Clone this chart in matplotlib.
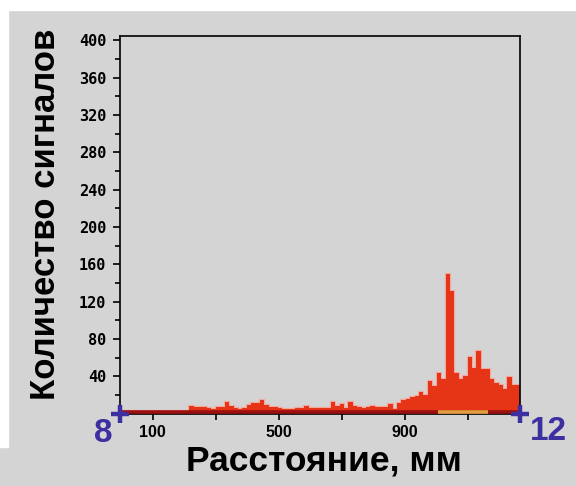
import numpy as np
import matplotlib
matplotlib.use("Agg")
import matplotlib.pyplot as plt
from matplotlib.patches import Rectangle

# ---- data ----
bin_start = -8          # mm, first bin edge
bin_width = 14          # mm
counts = [3, 3, 3, 3, 3, 3, 3, 3, 3, 3, 3, 3, 3, 3, 3, 3,
          8, 7, 7, 7, 6, 5, 7, 7, 12, 8, 6, 5, 6, 9, 11, 11,
          15, 9, 7, 7, 6, 5, 5, 5, 6, 6, 8, 6, 5.5, 5.5, 5.5, 5.5,
          12, 8, 10, 6, 12, 8, 7, 6, 7, 8, 7, 7, 7, 10, 5, 11,
          15, 16, 18, 19, 23, 20, 35, 30, 43, 37, 150, 131, 43, 37, 40, 61,
          49, 67, 48, 48, 37, 33, 31, 26, 39, 31, 31]
x_limits = [-4, 1264]
y_limits = [0, 405]
x_ticks = [100, 300, 500, 700, 900, 1100]
x_tick_labels = ["100", "", "500", "", "900", ""]
y_major = list(range(0, 401, 40))
y_major_labels = [""] + [str(v) for v in range(40, 401, 40)]
y_minor = list(range(20, 400, 40))
marked_range = [1005, 1163]
corner_left_label = "8"
corner_right_label = "12"
xlabel = "Расстояние, мм"
ylabel = "Количество сигналов"

counts = np.array(counts, dtype=float)
edges = bin_start + bin_width * np.arange(len(counts) + 1)

GRAY = "#d4d4d4"
RED = "#e63416"
BLUE = "#3c2f9f"

W, H = 576, 486
fig = plt.figure(figsize=(W / 100, H / 100), dpi=100, facecolor=GRAY)
fig.patches.append(Rectangle((0, 1 - 10 / H), 1, 10 / H, transform=fig.transFigure,
                             color="white", zorder=0))
fig.patches.append(Rectangle((0, 1 - 447 / H), 8 / W, 447 / H, transform=fig.transFigure,
                             color="white", zorder=0))

ax = fig.add_axes([120 / W, 1 - 413.5 / H, 400 / W, (413.5 - 35.7) / H])
ax.set_facecolor(GRAY)

# halo / outline then bars
ax.stairs(counts, edges, color="#f3a8a2", linewidth=1.6, zorder=1)
ax.stairs(counts, edges, fill=True, color=RED, linewidth=0, zorder=2)
ax.axhline(1.5, color="#9a0f0f", linewidth=2.6, zorder=3)
ax.plot(marked_range, [1.5, 1.5], color="#e0a040", linewidth=2.6, zorder=4,
        solid_capstyle="butt")

ax.set_xlim(*x_limits)
ax.set_ylim(*y_limits)

for s in ax.spines.values():
    s.set_linewidth(1.2)
    s.set_color("black")

ax.set_xticks(x_ticks)
ax.set_xticklabels(x_tick_labels, fontsize=11.5, family="Liberation Sans",
                   fontweight="bold")
ax.set_yticks(y_major)
ax.set_yticklabels(y_major_labels, fontsize=11, family="DejaVu Sans Mono",
                   fontweight="bold")
ax.set_yticks(y_minor, minor=True)
ax.tick_params(axis="x", direction="out", length=4, width=1.2, pad=4, colors="black")
ax.tick_params(axis="y", which="major", direction="out", length=5, width=1.2, pad=5)
ax.tick_params(axis="y", which="minor", direction="out", length=3.5, width=1.2)

# blue corner markers
for xx in (0, 1):
    ax.plot([xx], [0], transform=ax.transAxes, marker="+", markersize=13,
            markeredgewidth=3.2, color=BLUE, clip_on=False, zorder=6)

fig.text(103 / W, 1 - 433 / H, corner_left_label, color=BLUE, fontsize=24,
         fontweight="bold", family="Liberation Sans", ha="center", va="center")
fig.text(548 / W, 1 - 432 / H, corner_right_label, color=BLUE, fontsize=24,
         fontweight="bold", family="Liberation Sans", ha="center", va="center")

fig.text(324 / W, 1 - 470 / H, xlabel, fontsize=25.5, fontweight="bold",
         family="Liberation Sans", ha="center", va="baseline")
fig.text(46 / W, 1 - 214 / H, ylabel, fontsize=25, fontweight="bold",
         family="Liberation Sans", ha="center", va="center", rotation=90)

fig.savefig("out.png", dpi=100, facecolor=GRAY)
